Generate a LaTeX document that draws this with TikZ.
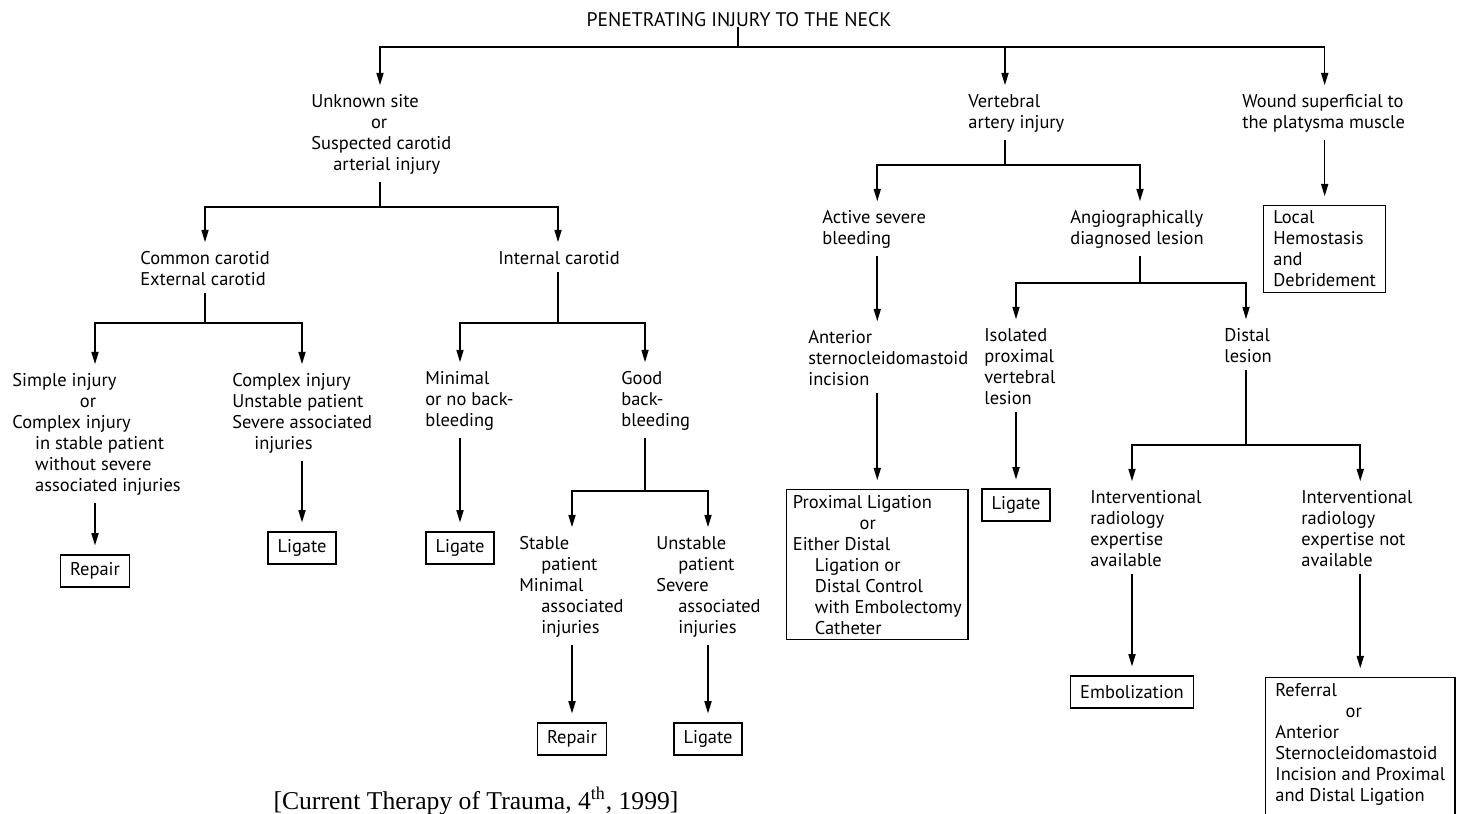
\documentclass[tikz,border=0pt]{standalone}
\usepackage{fontspec}
\setmainfont{PT Sans}
\newfontfamily\citefont{Liberation Serif}
\usepackage{tikz}
\usetikzlibrary{arrows.meta, positioning}

\begin{document}
\begin{tikzpicture}[x=0.02cm, y=-0.02cm,
  txt/.style={font=\fontsize{10.5}{11.95}\selectfont, align=left, inner sep=0pt},
  res/.style={txt, draw, line width=0.8pt, inner xsep=5.5pt, inner ysep=3pt},
  tag/.style={res, minimum height=0.64cm},
  stem/.style={line width=0.9pt, shorten <=4pt},
  arr/.style={line width=0.9pt, -{Triangle[length=7pt,width=4pt]}, shorten >=5pt},
  lead/.style={stem, arr}]
\useasboundingbox (0,0) rectangle (1463,814);
%%── Top of the tree ──────────────────────────────────────
\node[txt, font=\fontsize{11.2}{13}\selectfont, anchor=north] (title) at (739,12)
  {PENETRATING INJURY TO THE NECK};
\coordinate (b0) at (738,47);
\draw[line width=0.9pt] (title.south -| b0) -- (b0);
%%── First level ──────────────────────────────────────────
\node[txt, anchor=north west] (unknown) at (311,94)
  {Unknown site\\\hspace*{34pt}or\\Suspected carotid\\\hspace*{12.5pt}arterial injury};
\node[txt, anchor=north west] (vertebral) at (968,94) {Vertebral\\artery injury};
\node[txt, anchor=north west] (wound) at (1242,94) {Wound superficial to\\the platysma muscle};
%%── Carotid branch ───────────────────────────────────────
\node[txt, anchor=north west] (common) at (140,251) {Common carotid\\External carotid};
\node[txt, anchor=north west] (internal) at (498,251) {Internal carotid};
\node[txt, anchor=north west] (simple) at (12,373)
  {Simple injury\\\hspace*{38.5pt}or\\Complex injury\\\hspace*{13pt}in stable patient\\%
   \hspace*{13pt}without severe\\\hspace*{13pt}associated injuries};
\node[txt, anchor=north west] (complex) at (232,373)
  {Complex injury\\Unstable patient\\Severe associated\\\hspace*{12.5pt}injuries};
\node[txt, anchor=north west] (minimal) at (425,371) {Minimal\\or no back-\\bleeding};
\node[txt, anchor=north west] (good) at (621,371) {Good\\back-\\bleeding};
\node[txt, anchor=north west] (stable) at (519,536)
  {Stable\\\hspace*{12.5pt}patient\\Minimal\\\hspace*{12.5pt}associated\\\hspace*{12.5pt}injuries};
\node[txt, anchor=north west] (unstable) at (656,536)
  {Unstable\\\hspace*{12.5pt}patient\\Severe\\\hspace*{12.5pt}associated\\\hspace*{12.5pt}injuries};
\node[tag] (repA) at (95,571) {Repair};
\node[tag] (ligA) at (302,548) {Ligate};
\node[tag] (ligB) at (460,548) {Ligate};
\node[tag] (repB) at (572,739) {Repair};
\node[tag] (ligC) at (708,739) {Ligate};
%%── Vertebral branch ─────────────────────────────────────
\node[txt, anchor=north west] (active) at (822,210) {Active severe\\bleeding};
\node[txt, anchor=north west] (angio) at (1070,210) {Angiographically\\diagnosed lesion};
\node[txt, anchor=north west] (anterior) at (808,330) {Anterior\\sternocleidomastoid\\incision};
\node[txt, anchor=north west] (isolated) at (984,328) {Isolated\\proximal\\vertebral\\lesion};
\node[txt, anchor=north west] (distal) at (1224,328) {Distal\\lesion};
\node[res, inner xsep=3.5pt, anchor=north west] (prox) at (786,489)
  {Proximal Ligation\\\hspace*{38pt}or\\Either Distal\\\hspace*{12.5pt}Ligation or\\%
   \hspace*{12.5pt}Distal Control\\\hspace*{12.5pt}with Embolectomy\\\hspace*{12.5pt}Catheter};
\node[tag] (ligD) at (1016,505) {Ligate};
\node[txt, anchor=north west] (intA) at (1090,490)
  {Interventional\\radiology\\expertise\\available};
\node[txt, anchor=north west] (intB) at (1301,490)
  {Interventional\\radiology\\expertise not\\available};
\node[tag] (embol) at (1132,692) {Embolization};
\node[res, anchor=north west] (referral) at (1265,677)
  {Referral\\\hspace*{40pt}or\\Anterior\\Sternocleidomastoid\\Incision and Proximal\\%
   and Distal Ligation\\\mbox{}};
%%── Superficial wound ────────────────────────────────────
\node[res, anchor=north west] (local) at (1263,205) {Local\\Hemostasis\\and\\Debridement};
%%── Junctions ────────────────────────────────────────────
\coordinate (b1) at (380,207);
\coordinate (b2) at (205,323);
\coordinate (b3) at (558,323);
\coordinate (b4) at (645,491);
\coordinate (b5) at (1005,165);
\coordinate (b6) at (1140,283);
\coordinate (b7) at (1246,445);
%%── Connectors ───────────────────────────────────────────
\draw[arr] (b0) -| (unknown.north -| b1);
\draw[arr] (b0) -| (vertebral.north -| b5);
\draw[arr] (b0) -| (wound.north -| local);
\draw[stem] (unknown.south -| b1) -- (b1);
\draw[arr] (b1) -| (common.north -| b2);
\draw[arr] (b1) -| (internal.north -| b3);
\draw[stem] (common.south -| b2) -- (b2);
\draw[arr] (b2) -| (simple.north -| repA);
\draw[arr] (b2) -| (complex.north -| ligA);
\draw[stem] (internal.south -| b3) -- (b3);
\draw[arr] (b3) -| (minimal.north -| ligB);
\draw[arr] (b3) -| (good.north -| b4);
\draw[stem] (good.south -| b4) -- (b4);
\draw[arr] (b4) -| (stable.north -| repB);
\draw[arr] (b4) -| (unstable.north -| ligC);
\draw[lead] (simple.south -| repA) -- (repA.north);
\draw[lead] (complex.south -| ligA) -- (ligA.north);
\draw[lead] (minimal.south -| ligB) -- (ligB.north);
\draw[lead] (stable.south -| repB) -- (repB.north);
\draw[lead] (unstable.south -| ligC) -- (ligC.north);
\draw[lead] (wound.south -| local) -- (local.north);
\draw[stem] (vertebral.south -| b5) -- (b5);
\draw[arr] (b5) -| (active.north -| prox);
\draw[arr] (b5) -| (angio.north -| b6);
\draw[lead] (active.south -| prox) -- (anterior.north -| prox);
\draw[lead] (anterior.south -| prox) -- (prox.north);
\draw[stem] (angio.south -| b6) -- (b6);
\draw[arr] (b6) -| (isolated.north -| ligD);
\draw[arr] (b6) -| (distal.north -| b7);
\draw[lead] (isolated.south -| ligD) -- (ligD.north);
\draw[stem] (distal.south -| b7) -- (b7);
\draw[arr] (b7) -| (intA.north -| embol);
\draw[arr] (b7) -| (intB.north -| referral);
\draw[lead] (intA.south -| embol) -- (embol.north);
\draw[lead] (intB.south -| referral) -- (referral.north);
%%── Source ───────────────────────────────────────────────
\node[font=\citefont\fontsize{14.6}{17}\selectfont, inner sep=0pt] (source) at (476,801)
  {[Current Therapy of Trauma, 4\textsuperscript{th}, 1999]};
\end{tikzpicture}
\end{document}
